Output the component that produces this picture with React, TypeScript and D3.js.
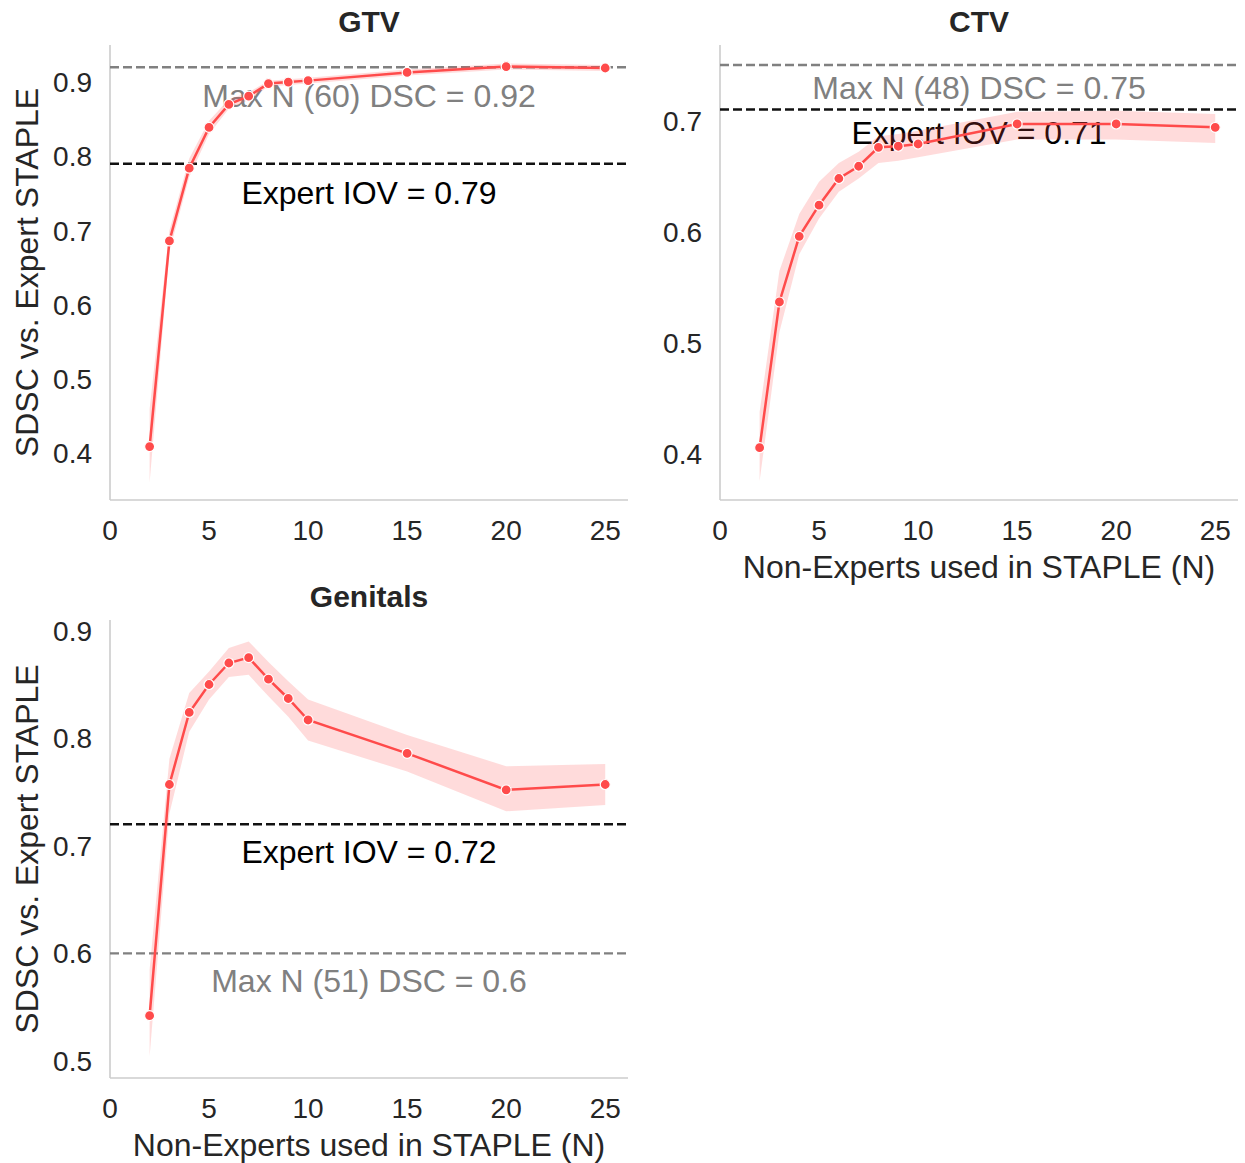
import * as d3 from "d3";

const nValues = [2, 3, 4, 5, 6, 7, 8, 9, 10, 15, 20, 25];

const gtvMean = [0.409, 0.686, 0.784, 0.839, 0.87, 0.881, 0.898, 0.9, 0.902, 0.913, 0.921, 0.919];
const gtvLow = [0.361, 0.672, 0.772, 0.83, 0.864, 0.876, 0.894, 0.896, 0.898, 0.909, 0.917, 0.915];
const gtvHigh = [0.46, 0.7, 0.797, 0.848, 0.877, 0.886, 0.902, 0.904, 0.906, 0.917, 0.925, 0.923];

const ctvMean = [0.406, 0.537, 0.596, 0.624, 0.648, 0.659, 0.676, 0.677, 0.679, 0.697, 0.697, 0.694];
const ctvLow = [0.376, 0.51, 0.58, 0.612, 0.636, 0.648, 0.662, 0.664, 0.667, 0.683, 0.683, 0.68];
const ctvHigh = [0.438, 0.565, 0.616, 0.645, 0.662, 0.672, 0.686, 0.688, 0.691, 0.708, 0.709, 0.706];

const genMean = [0.542, 0.757, 0.824, 0.85, 0.87, 0.875, 0.855, 0.837, 0.817, 0.786, 0.752, 0.757];
const genLow = [0.504, 0.73, 0.806, 0.836, 0.857, 0.859, 0.839, 0.82, 0.798, 0.769, 0.732, 0.738];
const genHigh = [0.585, 0.781, 0.842, 0.862, 0.884, 0.89, 0.871, 0.853, 0.836, 0.803, 0.774, 0.776];

const titles = ["GTV", "CTV", "Genitals"];
const expertIov = [0.79, 0.71, 0.72];
const maxN = [60, 48, 51];
const maxNDsc = [0.92, 0.75, 0.6];

const xTicks = [0, 5, 10, 15, 20, 25];
const gtvTicks = [0.4, 0.5, 0.6, 0.7, 0.8, 0.9];
const ctvTicks = [0.4, 0.5, 0.6, 0.7];
const genTicks = [0.5, 0.6, 0.7, 0.8, 0.9];

const FONT = "'Liberation Sans', Arial, Helvetica, sans-serif";
const RED = "#ff4b4b";

type Panel = {
  title: string;
  mean: number[];
  low: number[];
  high: number[];
  yTicks: number[];
  yDomain: [number, number];
  box: { left: number; right: number; top: number; bottom: number };
  iov: number;
  maxN: number;
  maxDsc: number;
  textOff: number;
  showYLabel: boolean;
  showXLabel: boolean;
};

const panels: Panel[] = [
  {
    title: titles[0], mean: gtvMean, low: gtvLow, high: gtvHigh, yTicks: gtvTicks,
    yDomain: [0.337, 0.95], box: { left: 110, right: 628, top: 45, bottom: 500 },
    iov: expertIov[0], maxN: maxN[0], maxDsc: maxNDsc[0], textOff: 40,
    showYLabel: true, showXLabel: false,
  },
  {
    title: titles[1], mean: ctvMean, low: ctvLow, high: ctvHigh, yTicks: ctvTicks,
    yDomain: [0.359, 0.768], box: { left: 720, right: 1238, top: 45, bottom: 500 },
    iov: expertIov[1], maxN: maxN[1], maxDsc: maxNDsc[1], textOff: 34,
    showYLabel: false, showXLabel: true,
  },
  {
    title: titles[2], mean: genMean, low: genLow, high: genHigh, yTicks: genTicks,
    yDomain: [0.484, 0.91], box: { left: 110, right: 628, top: 620, bottom: 1078 },
    iov: expertIov[2], maxN: maxN[2], maxDsc: maxNDsc[2], textOff: 39,
    showYLabel: true, showXLabel: true,
  },
];

function PanelView({ p }: { p: Panel }) {
  const { left, right, top, bottom } = p.box;
  const x = d3.scaleLinear().domain([0, 26.15]).range([left, right]);
  const y = d3.scaleLinear().domain(p.yDomain).range([bottom, top]);
  const cx = (left + right) / 2;

  const area = d3
    .area<number>()
    .x((_, i) => x(nValues[i]))
    .y0((_, i) => y(p.low[i]))
    .y1((_, i) => y(p.high[i]));
  const line = d3
    .line<number>()
    .x((_, i) => x(nValues[i]))
    .y((d) => y(d));

  return (
    <g>
      {/* spines */}
      <line x1={left} x2={left} y1={top} y2={bottom} stroke="#cccccc" strokeWidth={1.6} />
      <line x1={left} x2={right} y1={bottom} y2={bottom} stroke="#cccccc" strokeWidth={1.6} />

      {/* ticks */}
      {xTicks.map((t) => (
        <text key={"x" + t} x={x(t)} y={bottom + 40} textAnchor="middle" fontSize={28} fill="#262626">
          {t}
        </text>
      ))}
      {p.yTicks.map((t) => (
        <text key={"y" + t} x={left - 18} y={y(t)} dy="0.36em" textAnchor="end" fontSize={28} fill="#262626">
          {d3.format(".1f")(t)}
        </text>
      ))}

      <text x={cx} y={top - 13} textAnchor="middle" fontSize={30} fontWeight="bold" fill="#262626">
        {p.title}
      </text>

      {p.showYLabel && (
        <text
          transform={`translate(${38},${(top + bottom) / 2}) rotate(-90)`}
          textAnchor="middle"
          fontSize={32}
          fill="#262626"
        >
          SDSC vs. Expert STAPLE
        </text>
      )}
      {p.showXLabel && (
        <text x={cx} y={bottom + 78} textAnchor="middle" fontSize={32} fill="#262626">
          Non-Experts used in STAPLE (N)
        </text>
      )}

      {/* reference lines */}
      <line x1={left} x2={right} y1={y(p.maxDsc)} y2={y(p.maxDsc)} stroke="#808080" strokeWidth={2.3} strokeDasharray="9,4" />
      <text x={cx} y={y(p.maxDsc) + p.textOff} textAnchor="middle" fontSize={32} fill="#808080">
        {`Max N (${p.maxN}) DSC = ${p.maxDsc}`}
      </text>
      <line x1={left} x2={right} y1={y(p.iov)} y2={y(p.iov)} stroke="#111111" strokeWidth={2.3} strokeDasharray="9,4" />
      <text x={cx} y={y(p.iov) + p.textOff} textAnchor="middle" fontSize={32} fill="#000000">
        {`Expert IOV = ${p.iov}`}
      </text>

      {/* series */}
      <path d={area(p.mean) ?? ""} fill={RED} fillOpacity={0.2} stroke="none" />
      <path d={line(p.mean) ?? ""} fill="none" stroke={RED} strokeWidth={2.5} />
      {p.mean.map((d, i) => (
        <circle key={i} cx={x(nValues[i])} cy={y(d)} r={5} fill={RED} stroke="#ffffff" strokeWidth={1.2} />
      ))}
    </g>
  );
}

export default function App() {
  return (
    <svg
      width={1245}
      height={1163}
      style={{ position: "absolute", left: 0, top: 0, background: "#ffffff" }}
      fontFamily={FONT}
    >
      {panels.map((p) => (
        <PanelView key={p.title} p={p} />
      ))}
    </svg>
  );
}
